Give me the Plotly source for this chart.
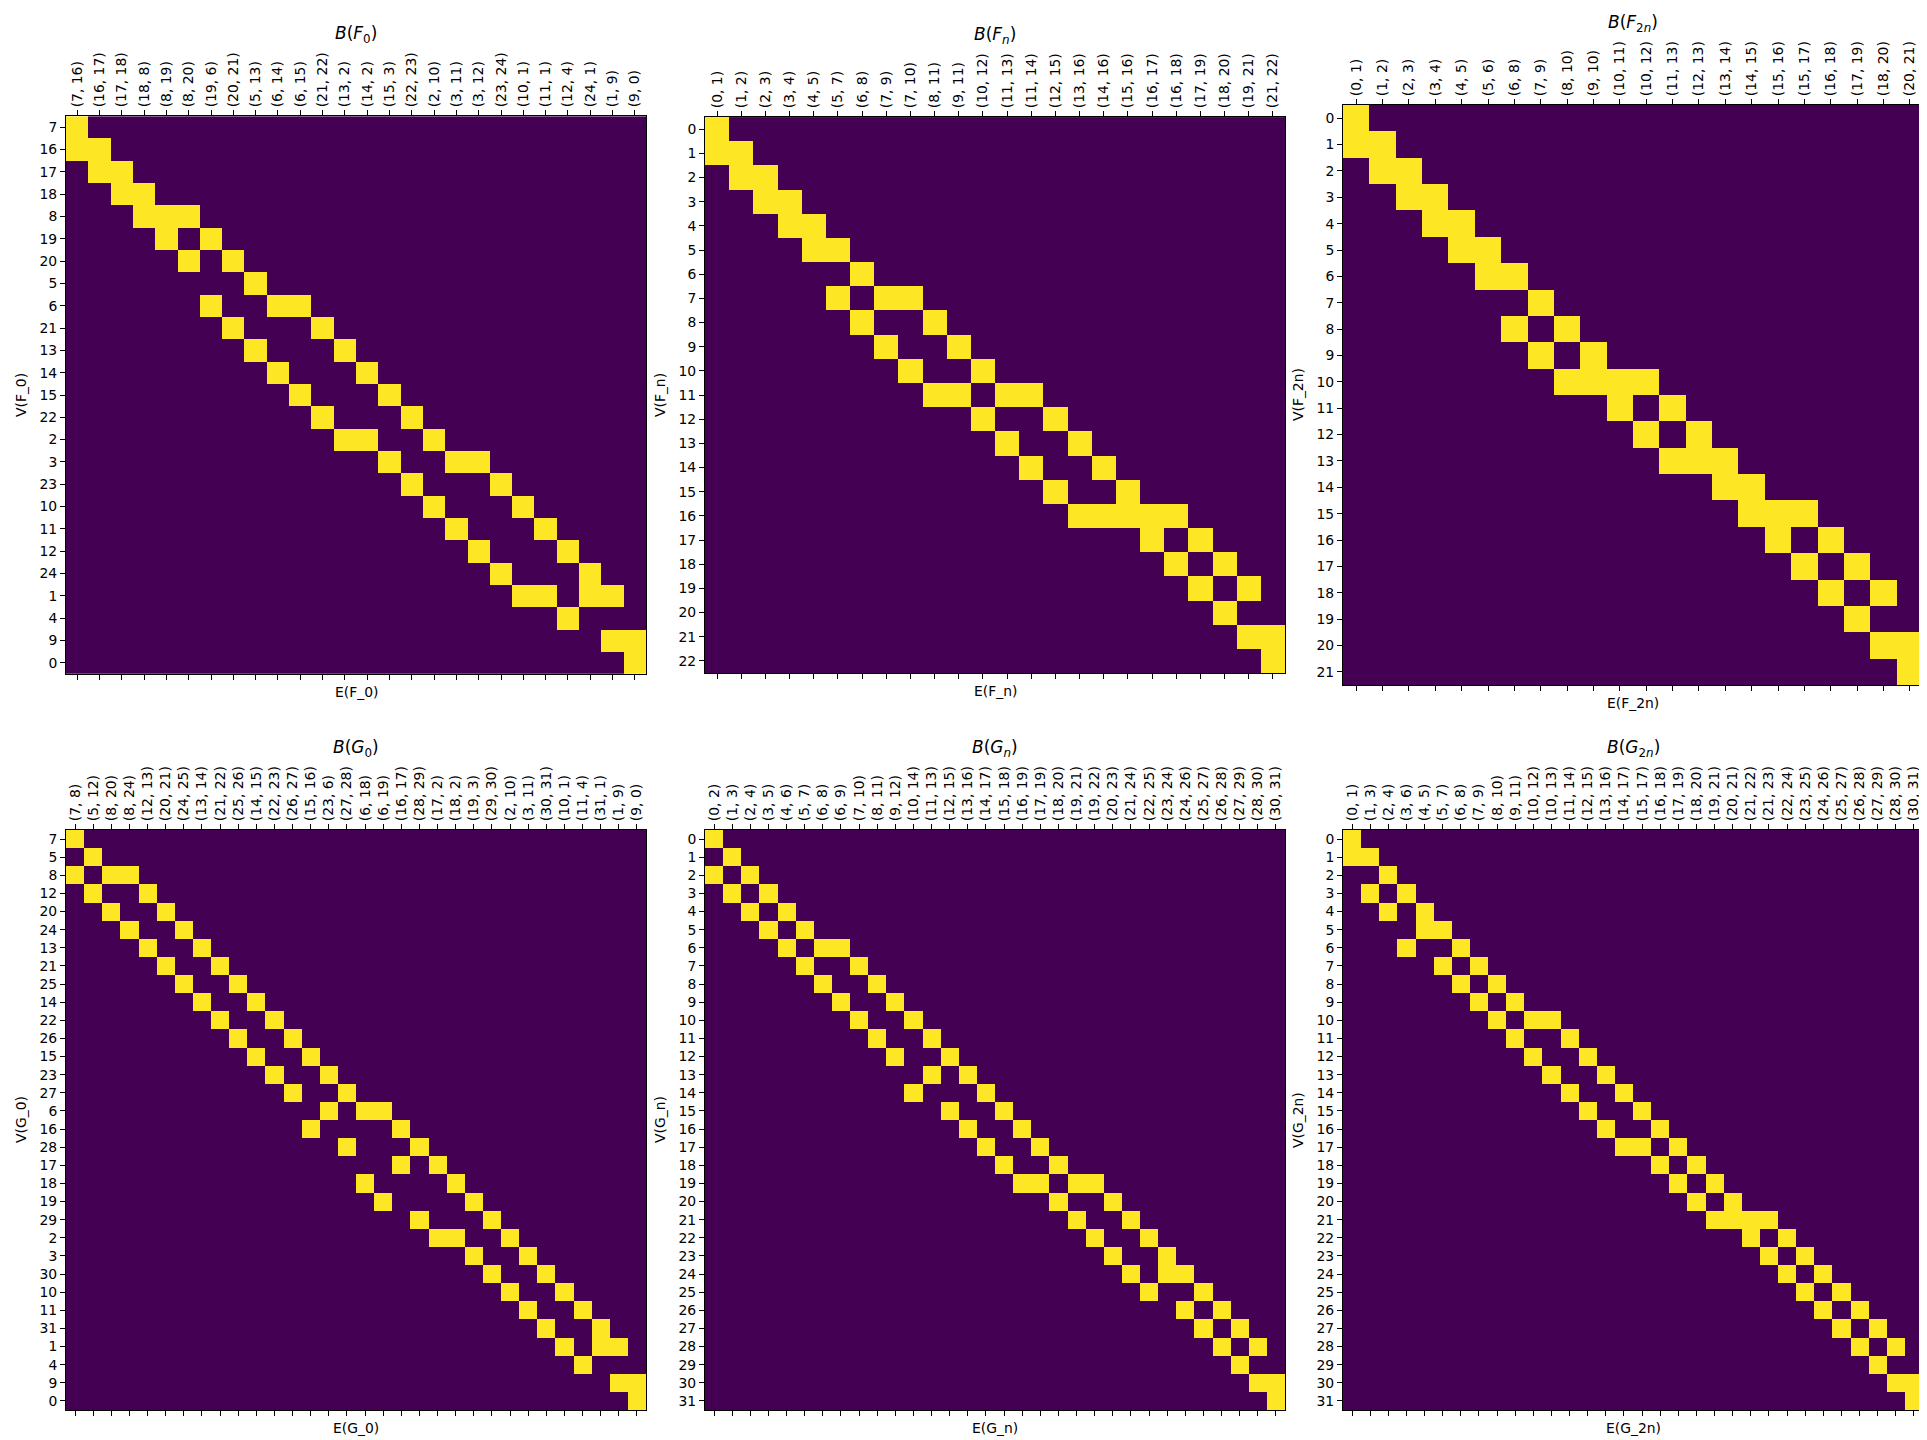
import plotly.graph_objects as go

# ---------------- data ----------------
F0_vertices = [7, 16, 17, 18, 8, 19, 20, 5, 6, 21, 13, 14, 15, 22, 2, 3, 23, 10, 11, 12, 24, 1, 4, 9, 0]
F0_edges = [(7, 16), (16, 17), (17, 18), (18, 8), (8, 19), (8, 20), (19, 6), (20, 21), (5, 13),
            (6, 14), (6, 15), (21, 22), (13, 2), (14, 2), (15, 3), (22, 23), (2, 10), (3, 11),
            (3, 12), (23, 24), (10, 1), (11, 1), (12, 4), (24, 1), (1, 9), (9, 0)]

Fn_vertices = [0, 1, 2, 3, 4, 5, 6, 7, 8, 9, 10, 11, 12, 13, 14, 15, 16, 17, 18, 19, 20, 21, 22]
Fn_edges = [(0, 1), (1, 2), (2, 3), (3, 4), (4, 5), (5, 7), (6, 8), (7, 9), (7, 10), (8, 11),
            (9, 11), (10, 12), (11, 13), (11, 14), (12, 15), (13, 16), (14, 16), (15, 16),
            (16, 17), (16, 18), (17, 19), (18, 20), (19, 21), (21, 22)]

F2n_vertices = [0, 1, 2, 3, 4, 5, 6, 7, 8, 9, 10, 11, 12, 13, 14, 15, 16, 17, 18, 19, 20, 21]
F2n_edges = [(0, 1), (1, 2), (2, 3), (3, 4), (4, 5), (5, 6), (6, 8), (7, 9), (8, 10), (9, 10),
             (10, 11), (10, 12), (11, 13), (12, 13), (13, 14), (14, 15), (15, 16), (15, 17),
             (16, 18), (17, 19), (18, 20), (20, 21)]

G0_vertices = [7, 5, 8, 12, 20, 24, 13, 21, 25, 14, 22, 26, 15, 23, 27, 6, 16, 28, 17, 18, 19,
               29, 2, 3, 30, 10, 11, 31, 1, 4, 9, 0]
G0_edges = [(7, 8), (5, 12), (8, 20), (8, 24), (12, 13), (20, 21), (24, 25), (13, 14), (21, 22),
            (25, 26), (14, 15), (22, 23), (26, 27), (15, 16), (23, 6), (27, 28), (6, 18), (6, 19),
            (16, 17), (28, 29), (17, 2), (18, 2), (19, 3), (29, 30), (2, 10), (3, 11), (30, 31),
            (10, 1), (11, 4), (31, 1), (1, 9), (9, 0)]

Gn_vertices = [0, 1, 2, 3, 4, 5, 6, 7, 8, 9, 10, 11, 12, 13, 14, 15, 16, 17, 18, 19, 20, 21, 22,
               23, 24, 25, 26, 27, 28, 29, 30, 31]
Gn_edges = [(0, 2), (1, 3), (2, 4), (3, 5), (4, 6), (5, 7), (6, 8), (6, 9), (7, 10), (8, 11),
            (9, 12), (10, 14), (11, 13), (12, 15), (13, 16), (14, 17), (15, 18), (16, 19),
            (17, 19), (18, 20), (19, 21), (19, 22), (20, 23), (21, 24), (22, 25), (23, 24),
            (24, 26), (25, 27), (26, 28), (27, 29), (28, 30), (30, 31)]

G2n_vertices = [0, 1, 2, 3, 4, 5, 6, 7, 8, 9, 10, 11, 12, 13, 14, 15, 16, 17, 18, 19, 20, 21, 22,
                23, 24, 25, 26, 27, 28, 29, 30, 31]
G2n_edges = [(0, 1), (1, 3), (2, 4), (3, 6), (4, 5), (5, 7), (6, 8), (7, 9), (8, 10), (9, 11),
             (10, 12), (10, 13), (11, 14), (12, 15), (13, 16), (14, 17), (15, 17), (16, 18),
             (17, 19), (18, 20), (19, 21), (20, 21), (21, 22), (21, 23), (22, 24), (23, 25),
             (24, 26), (25, 27), (26, 28), (27, 29), (28, 30), (30, 31)]

panels = [
    ("<i>B</i>(<i>F</i><sub>0</sub>)", "V(F_0)", "E(F_0)", F0_vertices, F0_edges),
    ("<i>B</i>(<i>F</i><sub><i>n</i></sub>)", "V(F_n)", "E(F_n)", Fn_vertices, Fn_edges),
    ("<i>B</i>(<i>F</i><sub>2<i>n</i></sub>)", "V(F_2n)", "E(F_2n)", F2n_vertices, F2n_edges),
    ("<i>B</i>(<i>G</i><sub>0</sub>)", "V(G_0)", "E(G_0)", G0_vertices, G0_edges),
    ("<i>B</i>(<i>G</i><sub><i>n</i></sub>)", "V(G_n)", "E(G_n)", Gn_vertices, Gn_edges),
    ("<i>B</i>(<i>G</i><sub>2<i>n</i></sub>)", "V(G_2n)", "E(G_2n)", G2n_vertices, G2n_edges),
]

# ---------------- layout geometry (pixels) ----------------
W, H = 1927, 1440
col_x0 = [58, 697, 1335]
row_y0 = [97, 822]
CELL = 580
FONT = "DejaVu Sans"
TICK_PX = 13.9

def text_width(s, size=TICK_PX):
    w = 0.0
    for ch in s:
        if ch.isdigit():
            w += 0.636
        elif ch in "()":
            w += 0.390
        else:
            w += 0.318
    return w * size

VIRIDIS_LO = "#440154"
VIRIDIS_HI = "#fde725"

fig = go.Figure()
annotations = []
layout_axes = {}

for k, (title, ylab, xlab, verts, edges) in enumerate(panels):
    r, c = divmod(k, 3)
    ncol, nrow = len(edges), len(verts)
    s = min(CELL / ncol, CELL / nrow)
    bw, bh = s * ncol, s * nrow
    left = col_x0[c] + (CELL - bw) / 2
    top = row_y0[r] + (CELL - bh) / 2
    right, bottom = left + bw, top + bh

    z = [[1 if v in e else 0 for e in edges] for v in verts]
    xs = list(range(ncol))
    ys = list(range(nrow))
    sfx = "" if k == 0 else str(k + 1)

    fig.add_trace(go.Heatmap(
        z=z, x=xs, y=ys, zmin=0, zmax=1,
        colorscale=[[0, VIRIDIS_LO], [0.5, VIRIDIS_LO], [0.5, VIRIDIS_HI], [1, VIRIDIS_HI]],
        showscale=False, hoverinfo="skip",
        xaxis="x" + sfx, yaxis="y" + sfx,
    ))

    xticktext = ["(%d, %d)" % e for e in edges]
    layout_axes["xaxis" + sfx] = dict(
        domain=[left / W, right / W], anchor="y" + sfx, side="top",
        range=[-0.5, ncol - 0.5], tickmode="array", tickvals=xs, ticktext=xticktext,
        tickangle=-90, ticks="outside", ticklen=5, tickwidth=1, tickcolor="black",
        showline=True, linecolor="black", linewidth=1, mirror="ticks",
        showgrid=False, zeroline=False, automargin=False, fixedrange=True,
        tickfont=dict(family=FONT, size=TICK_PX, color="black"),
    )
    layout_axes["yaxis" + sfx] = dict(
        domain=[1 - bottom / H, 1 - top / H], anchor="x" + sfx,
        range=[nrow - 0.5, -0.5], tickmode="array", tickvals=ys,
        ticktext=[str(v) for v in verts],
        ticks="outside", ticklen=5, tickwidth=1, tickcolor="black",
        showline=True, linecolor="black", linewidth=1, mirror=True,
        showgrid=False, zeroline=False, automargin=False, fixedrange=True,
        tickfont=dict(family=FONT, size=TICK_PX, color="black"),
    )

    maxw = max(text_width(t) for t in xticktext)
    title_bottom = top - 9.8 - maxw - 3
    annotations.append(dict(
        text=title, xref="paper", yref="paper", x=(left + right) / 2 / W, y=1 - title_bottom / H,
        xanchor="center", yanchor="bottom", showarrow=False,
        font=dict(family=FONT, size=17, color="black"),
    ))
    annotations.append(dict(
        text=xlab, xref="paper", yref="paper", x=(left + right) / 2 / W, y=1 - (bottom + 18) / H,
        xanchor="center", yanchor="middle", showarrow=False,
        font=dict(family=FONT, size=TICK_PX, color="black"),
    ))
    annotations.append(dict(
        text=ylab, xref="paper", yref="paper", x=(left - 45) / W, y=1 - (top + bottom) / 2 / H,
        xanchor="center", yanchor="middle", textangle=-90, showarrow=False,
        font=dict(family=FONT, size=TICK_PX, color="black"),
    ))

fig.update_layout(
    width=W, height=H, margin=dict(l=0, r=0, t=0, b=0),
    paper_bgcolor="white", plot_bgcolor="white",
    showlegend=False, annotations=annotations, **layout_axes,
)

fig.write_html("out.html")
